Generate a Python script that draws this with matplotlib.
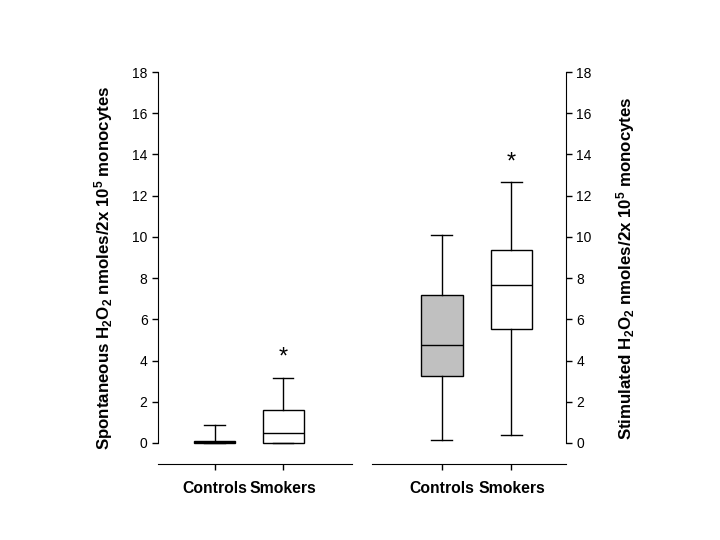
import matplotlib
matplotlib.use("Agg")
import matplotlib.pyplot as plt

plt.rcParams['font.family'] = ['Liberation Sans', 'DejaVu Sans']
plt.rcParams['mathtext.default'] = 'regular'

# Data (H2O2 nmoles / 2x10^5 monocytes)
groups = ["Controls", "Smokers"]

spont_whislo = [0.0, 0.0]
spont_q1 = [0.0, 0.0]
spont_med = [0.05, 0.48]
spont_q3 = [0.1, 1.6]
spont_whishi = [0.85, 3.15]

stim_whislo = [0.15, 0.4]
stim_q1 = [3.25, 5.53]
stim_med = [4.76, 7.67]
stim_q3 = [7.18, 9.37]
stim_whishi = [10.08, 12.67]

# significance markers (y position above smokers box)
spont_star = 4.15
stim_star = 13.6

box_colors = ["#c0c0c0", "white"]
yticks = [0, 2, 4, 6, 8, 10, 12, 14, 16, 18]


def make_stats(lo, q1, med, q3, hi):
    stats = []
    for i in range(len(groups)):
        stats.append(dict(whislo=lo[i], q1=q1[i], med=med[i], q3=q3[i],
                          whishi=hi[i], fliers=[], label=groups[i]))
    return stats


def draw_panel(ax, stats, star_y, xlim):
    bp = ax.bxp(stats, positions=[1, 2], widths=0.6, patch_artist=True,
                showfliers=False,
                boxprops=dict(edgecolor="black", linewidth=1.0),
                medianprops=dict(color="black", linewidth=1.0),
                whiskerprops=dict(color="black", linewidth=1.0),
                capprops=dict(color="black", linewidth=1.0),
                capwidths=0.3)
    for patch, c in zip(bp['boxes'], box_colors):
        patch.set_facecolor(c)
    ax.text(2, star_y, "*", ha="center", va="center", fontsize=17)
    ax.set_xlim(*xlim)
    ax.set_ylim(-1.02, 18)
    ax.set_yticks(yticks)
    ax.spines['top'].set_visible(False)
    ax.tick_params(axis='both', direction='out', length=4, width=1.0, labelsize=10)
    ax.tick_params(axis='x', labelsize=11.3, pad=8)
    for lab in ax.get_xticklabels():
        lab.set_fontweight('bold')


fig = plt.figure(figsize=(7.2, 5.4), dpi=100)
ax1 = fig.add_axes([158 / 720, 76 / 540, 194 / 720, 392 / 540])
ax2 = fig.add_axes([372 / 720, 76 / 540, 194 / 720, 392 / 540])

draw_panel(ax1, make_stats(spont_whislo, spont_q1, spont_med, spont_q3, spont_whishi),
           spont_star, (0.17, 3.01))
ax1.spines['right'].set_visible(False)
ax1.spines['left'].set_bounds(0, 18)
ax1.set_ylabel(r"Spontaneous H$_2$O$_2$ nmoles/2x 10$^5$ monocytes",
               fontsize=12.2, fontweight='bold', labelpad=12)

draw_panel(ax2, make_stats(stim_whislo, stim_q1, stim_med, stim_q3, stim_whishi),
           stim_star, (0.004, 2.78))
ax2.spines['left'].set_visible(False)
ax2.spines['right'].set_bounds(0, 18)
ax2.yaxis.tick_right()
ax2.yaxis.set_label_position("right")
ax2.set_ylabel(r"Stimulated H$_2$O$_2$ nmoles/2x 10$^5$ monocytes",
               fontsize=12.2, fontweight='bold', labelpad=16)

fig.savefig("out.png", dpi=100)
